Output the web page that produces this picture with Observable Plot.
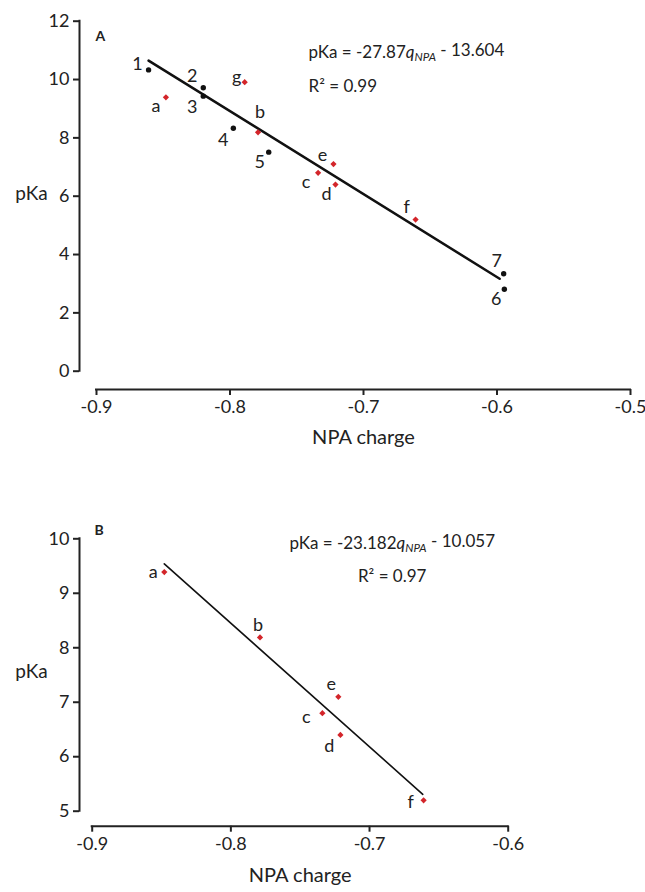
<!DOCTYPE html>
<html><head><meta charset="utf-8">
<script src="https://cdn.jsdelivr.net/npm/d3@7"></script>
<script src="https://cdn.jsdelivr.net/npm/@observablehq/plot@0.6"></script>
<style>
body{margin:0;background:#fff;}
#wrap{position:relative;width:645px;height:892px;background:#fff;}
#wrap svg{position:absolute;left:0;}
</style></head><body><div id="wrap"></div>
<script>
// ---- data ----
const compoundIds    = ["1", "2", "3", "4", "5", "6", "7"];
const compoundCharge = [-0.861, -0.820, -0.820, -0.7975, -0.771, -0.5945, -0.595];
const compoundPka    = [10.33, 9.72, 9.43, 8.33, 7.51, 2.81, 3.34];

const analogIds    = ["a", "b", "c", "d", "e", "f", "g"];
const analogCharge = [-0.848, -0.779, -0.734, -0.721, -0.7225, -0.661, -0.789];
const analogPka    = [9.39, 8.19, 6.80, 6.40, 7.10, 5.20, 9.91];

const panelBIds = ["a", "b", "c", "d", "e", "f"];

const fitA_charge = [-0.861, -0.598];
const fitA_pka    = [10.65, 3.17];
const fitB_charge = [-0.848, -0.6616];
const fitB_pka    = [9.54, 5.31];

const xTicksA = [-0.9, -0.8, -0.7, -0.6, -0.5];
const yTicksA = [0, 2, 4, 6, 8, 10, 12];
const xTicksB = [-0.9, -0.8, -0.7, -0.6];
const yTicksB = [5, 6, 7, 8, 9, 10];

const eqA = ["pKa = -27.87q_NPA - 13.604", "R² = 0.99"];
const eqB = ["pKa = -23.182q_NPA - 10.057", "R² = 0.97"];
const xLabel = "NPA charge";
const yLabel = "pKa";

// ---- label offsets (layout, not data) ----
const labelOffsetA = {
  "1": [-11, -6], "2": [-11, -11], "3": [-11, 11], "4": [-10, 12], "5": [-9, 10],
  "6": [-8, 10], "7": [-7, -13],
  a: [-10, 9], b: [2, -20], c: [-12, 9], d: [-9, 10], e: [-11, -9], f: [-9, -12], g: [-8, -5]
};
const labelOffsetB = { a: [-11, 0], b: [-2, -12], c: [-16, 4], d: [-11, 11], e: [-7, -13], f: [-13, 2] };

const RED = "#d3252a";
const INK = "#222";
const FONT = "Lato, 'Open Sans', sans-serif";

const compounds = compoundIds.map((id, i) => ({id, x: compoundCharge[i], y: compoundPka[i]}));
const analogs = analogIds.map((id, i) => ({id, x: analogCharge[i], y: analogPka[i]}));
const analogsB = analogs.filter(d => panelBIds.includes(d.id));

function panel(cfg) {
  const xd = [cfg.xTicks[0], cfg.xTicks[cfg.xTicks.length - 1]];
  const yd = [cfg.yTicks[0], cfg.yTicks[cfg.yTicks.length - 1]];
  const fit = cfg.fitX.map((x, i) => ({x, y: cfg.fitY[i]}));
  const labelMarks = [...cfg.black, ...cfg.red].map(d => {
    const o = cfg.offsets[d.id];
    return Plot.text([d], {x: "x", y: "y", text: "id", dx: o[0], dy: o[1], fontSize: 18, fill: INK});
  });
  const svg = Plot.plot({
    width: 645,
    height: cfg.height,
    marginTop: cfg.mt, marginBottom: cfg.mb, marginLeft: cfg.ml, marginRight: cfg.mr,
    style: {fontFamily: FONT, color: INK, background: "transparent", overflow: "visible"},
    x: {domain: xd, insetLeft: cfg.il},
    y: {domain: yd, insetBottom: cfg.ib},
    marks: [
      Plot.ruleX([{x: xd[0], y1: yd[0], y2: yd[1]}], {x: "x", y1: "y1", y2: "y2", dx: -cfg.il, stroke: INK, strokeWidth: 2, strokeLinecap: "square"}),
      Plot.ruleY([{y: yd[0], x1: xd[0], x2: xd[1]}], {y: "y", x1: "x1", x2: "x2", dy: cfg.ib, stroke: INK, strokeWidth: 2, strokeLinecap: "square"}),
      Plot.axisX({ticks: cfg.xTicks, tickSize: 6, tickPadding: 5, strokeWidth: 2, tickFormat: d => d.toFixed(1), fontSize: 18, label: null}),
      Plot.axisY({ticks: cfg.yTicks, tickSize: 6, tickPadding: 4, strokeWidth: 2, tickFormat: d => String(d), fontSize: 18, label: null}),
      Plot.text([xLabel], {x: () => (xd[0] + xd[1]) / 2, frameAnchor: "bottom", dy: cfg.xLabelDy, fontSize: 20, fill: INK}),
      Plot.text([yLabel], {frameAnchor: "left", textAnchor: "middle", dx: -48, dy: -11, fontSize: 19, fill: INK}),
      Plot.text([cfg.panelLabel], {frameAnchor: "top-left", dx: cfg.pl[0], dy: cfg.pl[1], textAnchor: "start", fontWeight: "bold", fontSize: 14, fill: INK}),
      Plot.text([cfg.eq[0]], {frameAnchor: "top-left", dx: cfg.eqPos[0], dy: cfg.eqPos[1], textAnchor: cfg.eqAnchor, fontSize: 17, fill: INK}),
      Plot.text([cfg.eq[1]], {frameAnchor: "top-left", dx: cfg.eqPos[2], dy: cfg.eqPos[3], textAnchor: cfg.eqAnchor, fontSize: 17, fill: INK}),
      Plot.line(fit, {x: "x", y: "y", stroke: "#111", strokeWidth: cfg.lw}),
      Plot.dot(cfg.black, {x: "x", y: "y", r: 2.7, fill: "#111", stroke: null}),
      Plot.dot(cfg.red, {x: "x", y: "y", symbol: "diamond2", r: 2.8, fill: RED, stroke: null}),
      ...labelMarks
    ]
  });
  // subscript in equation
  d3.select(svg).selectAll("text").each(function () {
    const t = this.textContent;
    if (t.includes("q_NPA")) {
      const [pre, post] = t.split("q_NPA");
      const s = d3.select(this);
      s.text(null);
      s.append("tspan").text(pre);
      s.append("tspan").attr("font-style", "italic").text("q");
      s.append("tspan").attr("font-style", "italic").attr("font-size", "0.68em").attr("dy", "0.3em").text("NPA");
      s.append("tspan").attr("dy", "-0.3em").text(post);
    }
  });
  svg.style.top = cfg.top + "px";
  return svg;
}

const wrap = document.getElementById("wrap");
wrap.appendChild(panel({
  top: 0, height: 470, mt: 20.7, mb: 81, ml: 79, mr: 15, il: 17, ib: 18.3,
  xTicks: xTicksA, yTicks: yTicksA, fitX: fitA_charge, fitY: fitA_pka, lw: 2.5,
  black: compounds, red: analogs, offsets: labelOffsetA,
  xLabelDy: 54, panelLabel: "A", pl: [16, 10],
  eq: eqA, eqAnchor: "start", eqPos: [229, 24.3, 229, 58.8]
}));
wrap.appendChild(panel({
  top: 500, height: 392, mt: 38.3, mb: 66.3, ml: 79, mr: 137.3, il: 12.7, ib: 15,
  xTicks: xTicksB, yTicks: yTicksB, fitX: fitB_charge, fitY: fitB_pka, lw: 1.6,
  black: [], red: analogsB, offsets: labelOffsetB,
  xLabelDy: 56, panelLabel: "B", pl: [15, -13.3],
  eq: eqB, eqAnchor: "middle", eqPos: [312.7, -2, 312.7, 31]
}));
</script></body></html>
